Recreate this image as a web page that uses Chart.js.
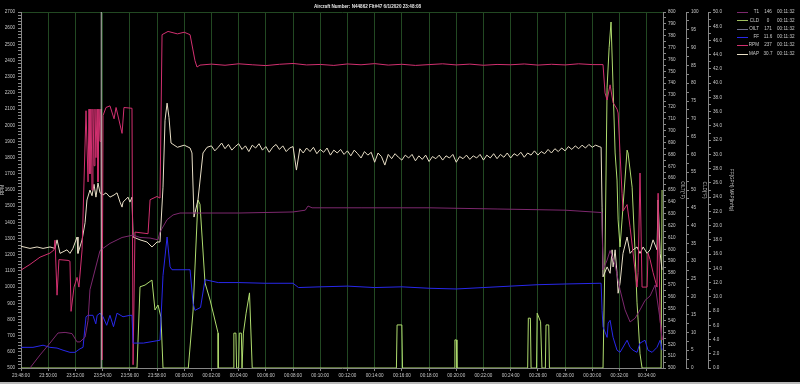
<!DOCTYPE html>
<html><head><meta charset="utf-8">
<script src="https://cdn.jsdelivr.net/npm/chart.js@4"></script>
<style>
html,body{margin:0;padding:0;background:#b9b9b9;}
#wrap{width:800px;height:382px;background:#000;}
canvas{display:block;}
</style></head><body>
<div id="wrap"><canvas id="c" width="800" height="382"></canvas></div>
<script>
// ---- text ----
const titleText = 'Aircraft Number: N44862 Flt#47 6/1/2020 23:48:08';
const timeLabels = ['23:48:00','23:50:00','23:52:00','23:54:00','23:56:00','23:58:00','00:00:00','00:02:00',
  '00:04:00','00:06:00','00:08:00','00:10:00','00:12:00','00:14:00','00:16:00','00:18:00','00:20:00',
  '00:22:00','00:24:00','00:26:00','00:28:00','00:30:00','00:32:00','00:34:00'];
const legendNames  = ['T1','CLD','OILT','FF','RPM','MAP'];
const legendValues = ['146','0','171','11.6','237','30.7'];
const legendTimes  = ['00:11:32','00:11:32','00:11:32','00:11:32','00:11:32','00:11:32'];
const legendColors = ['rgb(125,40,110)','rgb(160,190,95)','rgb(115,115,140)','rgb(40,40,235)','rgb(210,48,112)','rgb(232,222,198)'];

// ---- data (x = minutes after 23:48:00) ----
const rpmT = [0,0.66,1.4,2.13,2.43,2.5,2.65,2.79,3.46,3.6,3.68,3.9,4.12,4.26,4.49,4.78,4.93,5.0,5.07,5.15,5.22,5.29,5.37,5.44,5.51,5.59,5.66,5.74,5.81,5.88,5.96,6.03,6.25,6.54,6.84,6.99,7.43,7.57,8.16,8.24,8.38,9.34,9.49,10.0,10.22,10.37,10.81,11.5,12.0,12.43,12.79,12.94,13.16,
  14,15,16,17,18,19,20,21,22,23,24,25,26,27,28,29,30,31,32,33,34,35,36,37,38,39,40,41,42,42.79,
  42.94,43.09,43.31,43.53,43.82,43.9,44.04,44.19,44.26,44.56,44.78,45.0,45.29,45.37,45.51,45.66,46.03,46.1,46.25,46.47,46.76,46.84,46.99,47.13];
const rpmV = [1105,1140,1185,1210,1230,1290,950,1170,1165,1160,850,1000,1060,1000,1230,2090,1650,2100,1700,2100,1600,2100,1750,2100,1800,2100,1650,2100,1900,2100,550,2060,2110,2120,2040,2110,1950,2110,2105,520,1340,1330,1540,1560,1550,2560,2580,2565,2575,2560,2400,2360,2372,
  2378,2371,2380,2374,2369,2377,2382,2373,2376,2370,2379,2374,2381,2372,2377,2370,2375,2380,2373,2378,2371,2376,2374,2379,2372,2377,2373,2380,2375,2375,
  2200,2156,2250,2140,2100,2076,1830,1580,1470,1510,1370,1210,1000,1090,1705,1000,1000,1210,1170,1090,1000,1580,796,673];

const mapT = [0,0.66,1.18,1.62,2.13,2.5,2.65,2.87,3.38,3.6,3.82,4.12,4.19,4.49,4.71,4.85,5.07,5.22,5.37,5.51,5.66,5.81,6.03,6.25,6.54,6.84,7.06,7.28,7.43,7.5,7.87,8.01,8.16,8.24,8.75,9.26,9.63,10.0,10.22,10.44,10.59,10.74,10.88,11.03,11.5,12.0,12.43,12.57,12.72,13.01,13.38,13.68,
  14,14.25,14.5,14.75,15,15.25,15.5,15.75,16,16.25,16.5,16.75,17,17.25,17.5,17.75,18,18.25,18.5,18.75,19,19.25,19.5,19.75,
  20,20.25,20.5,20.75,21,21.25,21.5,21.75,22,22.25,22.5,22.75,23,23.25,23.5,23.75,24,24.25,24.5,24.75,25,25.25,25.5,25.75,
  26,26.25,26.5,26.75,27,27.25,27.5,27.75,28,28.25,28.5,28.75,29,29.25,29.5,29.75,30,30.25,30.5,30.75,31,31.25,31.5,31.75,
  32,32.25,32.5,32.75,33,33.25,33.5,33.75,34,34.25,34.5,34.75,35,35.25,35.5,35.75,36,36.25,36.5,36.75,37,37.25,37.5,37.75,
  38,38.25,38.5,38.75,39,39.25,39.5,39.75,40,40.25,40.5,40.75,41,41.25,41.5,41.75,42,42.25,42.5,42.65,
  42.72,42.79,43.09,43.31,43.46,43.53,43.68,43.82,43.9,44.04,44.26,44.56,44.78,45.0,45.29,45.51,45.74,46.03,46.25,46.47,46.76,46.84,46.99,47.13];
const mapV = [17.1,16.8,17.0,16.8,17.0,16.8,18.0,16.1,16.6,16.1,16.8,18.4,16.1,18.0,20.4,23.6,25.0,24.2,25.8,24.0,26.0,24.6,24.3,24.6,24.0,24.3,24.6,23.3,22.6,23.3,24.0,23.3,24.0,18.4,18.0,17.7,17.0,17.7,17.7,25.4,34.8,37.2,35.2,31.6,31.0,31.3,30.9,30.2,21.2,23.6,30.2,31.0,
  31.2,30.5,31.0,31.6,30.8,31.4,30.6,31.1,31.5,30.7,31.2,30.4,31.3,30.9,31.5,30.6,31.1,30.3,31.0,31.4,30.7,31.2,30.4,30.9,
  31.1,27.8,30.8,30.2,30.9,30.4,31.0,30.1,30.7,30.3,30.9,29.9,30.6,30.2,30.7,30.0,30.5,29.8,30.6,30.1,29.5,30.4,29.9,30.3,
  28.9,30.2,29.7,28.5,30.0,29.4,30.1,29.6,29.2,29.9,29.5,30.0,29.1,29.8,29.3,29.9,29.0,29.7,29.4,29.9,29.2,29.8,29.5,30.0,
  28.9,29.7,29.4,29.9,29.3,29.8,29.5,30.0,29.2,29.9,29.5,30.1,29.4,30.0,29.6,30.2,29.5,30.1,29.8,30.3,29.6,30.2,29.9,30.5,
  29.9,30.4,30.1,30.7,30.2,30.8,30.4,30.9,30.5,31.1,30.7,31.2,30.8,31.3,30.9,31.4,31.0,31.3,31.1,31.0,
  22.6,12.8,14.2,13.3,16.6,14.2,16.6,13.3,10.5,11.9,16.1,18.4,16.1,16.6,17.0,16.1,17.0,16.1,16.6,18.0,16.6,23.6,16.1,13.8];

const ffT = [0,0.88,1.62,2.13,2.65,3.09,3.6,3.97,4.34,4.56,4.78,4.93,5.29,5.5,5.6,5.81,6.03,6.3,6.54,6.8,7.06,7.5,8.01,8.16,8.24,9.0,10.22,10.44,10.74,10.96,11.1,12.21,12.43,12.65,12.79,13.2,13.53,14.5,16,18,20,20.4,22,24,26,28,30,32,34,36,38,40,42.5,42.65,
  42.72,42.79,43.09,43.17,43.31,43.53,43.82,44.04,44.56,44.78,45.0,45.29,45.51,45.88,46.1,46.4,46.76,46.99,47.13];
const ffV = [2.9,2.9,3.2,2.9,2.8,2.5,2.2,2.2,2.7,2.9,7.2,7.4,7.4,6.2,7.4,7.7,7.2,6.0,7.4,5.8,7.7,7.2,7.4,7.4,3.5,3.5,3.9,13.0,18.4,14.2,13.8,13.8,13.8,9.1,8.1,8.5,12.4,12.0,12.0,11.9,11.9,11.3,11.4,11.5,11.3,11.4,11.2,11.1,11.3,11.5,11.7,11.8,11.9,11.9,
  8.1,5.8,4.3,6.3,6.7,4.3,2.5,2.2,3.9,2.9,2.5,2.2,3.5,3.9,2.5,2.2,2.9,3.9,2.5];

const cldT = [0,8.53,8.75,9.12,9.63,9.85,10.07,10.29,10.44,12.3,12.65,13.01,13.16,13.53,13.9,14.49,14.5,
  15.6,15.65,15.8,15.85,16.0,16.05,16.2,16.25,16.3,16.35,16.55,16.8,17.0,
  27.6,27.65,28.0,28.05,31.85,31.9,32.0,32.05,37.25,37.3,37.45,37.5,37.9,37.95,38.2,38.3,38.55,38.6,38.8,38.85,
  42.79,42.94,43.09,43.24,43.38,43.53,43.68,43.82,43.9,44.04,44.19,44.56,44.63,44.93,45.15,45.29,45.37,45.51,45.66,47.06,47.13];
const cldV = [0,0,22.8,23.3,24.7,16.3,17.7,14.3,0,0,16.0,47.2,46.0,23.9,19.1,9.8,0,
  0,9.8,9.8,0,0,9.8,9.8,0,0,9.8,15.4,21.1,0,
  0,12.1,12.1,0,0,7.9,7.9,0,0,14.0,14.0,0,0,15.4,13.0,0,0,12.1,12.1,0,
  0,32.3,78.9,90.0,97.2,78.9,60.4,52.8,41.6,34.0,41.6,61.2,60.4,50.8,32.3,18.3,13.5,4.0,0,0,50.0];

const t1T = [0,0.66,1.4,2.13,2.72,3.24,3.75,4.12,4.34,4.71,4.93,5.07,5.81,6.54,7.43,8.24,8.75,9.49,10.07,10.22,10.74,11.18,11.69,13.16,16,20,20.9,21.1,21.4,25,30,35,40,42.7,
  42.79,43.09,43.31,43.68,44.04,44.41,44.78,45.15,45.51,45.88,46.25,46.62,46.99,47.13];
const t1V = [480,500,511,521,529.5,530,529,522,522,526,540,566,599,605,610,612,610,609.5,608,614.6,625,629,630.6,630.6,630.6,631.5,633,636.5,635,635,635,634,633,631,
  582.6,591,599,586.8,566,549,538.8,542,549,557,560.7,570,540.4,523.6];

const markerTimes = [5.9];

// ---- build ----
const pts = (t, v) => t.map((x, i) => ({x: x, y: v[i]}));
const FONT = {family: "'Liberation Sans', Arial, sans-serif", size: 4.6};
const GRID_GREEN = 'rgb(34,72,34)';
const AXIS_GRAY = 'rgb(135,135,135)';
const LABEL = 'rgb(200,200,200)';

function lineDs(label, data, color, axis) {
  return {label, data, borderColor: color, backgroundColor: color, borderWidth: 1,
    pointRadius: 0, tension: 0, yAxisID: axis, fill: false};
}
const datasets = [];
markerTimes.forEach(t => datasets.push(lineDs('marker', [{x: t, y: 500}, {x: t, y: 2700}], 'rgb(190,195,185)', 'y')));
datasets.push(lineDs('T1', pts(t1T, t1V), legendColors[0], 'yOilt'));
datasets.push(lineDs('FF', pts(ffT, ffV), legendColors[3], 'yFF'));
datasets.push(lineDs('RPM', pts(rpmT, rpmV), legendColors[4], 'y'));
datasets.push(lineDs('MAP', pts(mapT, mapV), legendColors[5], 'yFF'));
datasets.push(lineDs('CLD', pts(cldT, cldV), 'rgb(175,220,110)', 'yCld'));

function rightAxis(min, max, step, labelEvery, decimals, title, width, weight) {
  return {
    type: 'linear', position: 'right', min, max, weight,
    ticks: {stepSize: step, autoSkip: false, color: LABEL, font: FONT, padding: 2,
      callback: v => (Math.abs(v / labelEvery - Math.round(v / labelEvery)) < 1e-6) ? v.toFixed(decimals) : ''},
    grid: {drawOnChartArea: false, color: AXIS_GRAY, tickColor: AXIS_GRAY, tickLength: 3},
    border: {color: AXIS_GRAY},
    title: {display: true, text: title, color: LABEL, font: FONT, padding: {top: 1, bottom: 0}},
    afterFit: s => { s.width = width; }
  };
}

const legendPlugin = {
  id: 'sideLegend',
  afterDraw(chart) {
    const ctx = chart.ctx;
    ctx.save();
    ctx.font = "4.6px 'Liberation Sans', Arial, sans-serif";
    ctx.textBaseline = 'middle';
    legendNames.forEach((n, i) => {
      const y = 12 + i * 8.3;
      ctx.strokeStyle = legendColors[i];
      ctx.lineWidth = 1;
      ctx.beginPath(); ctx.moveTo(737, Math.round(y) + 0.5); ctx.lineTo(748, Math.round(y) + 0.5); ctx.stroke();
      ctx.fillStyle = LABEL;
      ctx.textAlign = 'right'; ctx.fillText(n, 759, y);
      ctx.textAlign = 'center'; ctx.fillText(legendValues[i], 768, y);
      ctx.textAlign = 'left'; ctx.fillText(legendTimes[i], 777, y);
    });
    ctx.restore();
  }
};

new Chart(document.getElementById('c'), {
  type: 'line',
  data: {datasets},
  plugins: [legendPlugin],
  options: {
    responsive: false, animation: false, devicePixelRatio: 1,
    layout: {padding: {left: 0, right: 65, top: 0, bottom: 0}},
    plugins: {
      legend: {display: false}, tooltip: {enabled: false},
      title: {display: true, text: titleText, color: 'rgb(230,230,230)', font: FONT, padding: {top: 4, bottom: 2.5}}
    },
    scales: {
      x: {
        type: 'linear', min: 0, max: 47.2,
        afterBuildTicks: s => { s.ticks = timeLabels.map((l, i) => ({value: i * 2})); },
        ticks: {autoSkip: false, maxRotation: 0, color: LABEL, font: FONT, padding: 2,
          callback: v => timeLabels[Math.round(v / 2)]},
        grid: {color: GRID_GREEN, tickColor: AXIS_GRAY, tickLength: 3, drawOnChartArea: true},
        border: {color: AXIS_GRAY},
        afterFit: s => { s.height = 14; }
      },
      y: {
        type: 'linear', position: 'left', min: 500, max: 2700,
        ticks: {stepSize: 20, autoSkip: false, color: LABEL, font: FONT, padding: 3,
          callback: v => (v % 100 === 0) ? String(v) : ''},
        grid: {drawOnChartArea: true, color: c => (c.tick && c.tick.value === 2700) ? GRID_GREEN : 'rgba(0,0,0,0)',
          tickColor: AXIS_GRAY, tickLength: 3},
        border: {color: AXIS_GRAY},
        title: {display: true, text: 'RPM', color: LABEL, font: FONT, padding: {top: 0, bottom: 0}},
        afterFit: s => { s.width = 21; }
      },
      yOilt: rightAxis(500, 800, 5, 10, 0, 'OILT(°F)', 23, 1),
      yCld: rightAxis(0, 100, 2.5, 5, 0, 'CLD(°F)', 22, 2),
      yFF: rightAxis(0, 50, 1, 2, 1, 'FF(GPH) MAP(inHg)', 27, 3)
    }
  }
});
</script>
</body></html>
